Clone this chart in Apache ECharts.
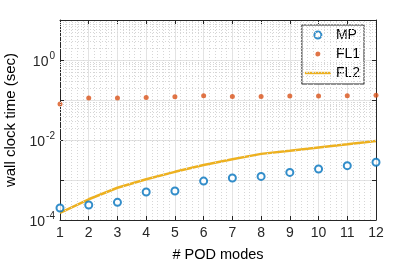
<!DOCTYPE html>
<html>
<head>
<meta charset="utf-8">
<script src="https://cdn.jsdelivr.net/npm/echarts@6/dist/echarts.min.js"></script>
<style>html,body{margin:0;padding:0;background:#fff}#c{width:415px;height:265px}</style>
</head>
<body>
<div id="c"></div>
<script>
var modes = [1,2,3,4,5,6,7,8,9,10,11,12];
var mpTimes = [2.0e-4,2.37e-4,2.76e-4,5.0e-4,5.3e-4,9.4e-4,1.12e-3,1.23e-3,1.55e-3,1.88e-3,2.28e-3,2.77e-3];
var fl1Times = [0.079,0.112,0.112,0.115,0.12,0.128,0.123,0.123,0.126,0.126,0.128,0.131];
var fl2Times = [1.5e-4,3.3e-4,6.4e-4,1.04e-3,1.6e-3,2.37e-3,3.3e-3,4.5e-3,5.4e-3,6.5e-3,7.8e-3,9.4e-3];
var minorY = [];
[-4,-3,-2,-1,0].forEach(function(e){ for (var k=2;k<=9;k++) minorY.push(k*Math.pow(10,e)); });
var minorX = [];
for (var i=1;i<12;i++){ for (var j=1;j<5;j++) minorX.push(i + j*0.2); }

function pairs(ys){ return modes.map(function(x,i){ return [x, ys[i]]; }); }

var font = 'Liberation Sans, Arial, Helvetica, sans-serif';
var chart = echarts.init(document.getElementById('c'));
var axisLine = {show:true, lineStyle:{color:'#262626', width:1}};
chart.setOption({
  animation:false,
  textStyle:{fontFamily:font},
  grid:{left:60,right:39,top:20,bottom:45,containLabel:false,outerBoundsMode:'none'},
  legend:{
    orient:'vertical', right:51, top:25,
    backgroundColor:'#fff', borderColor:'#262626', borderWidth:1,
    padding:[3,4,4,3], itemGap:5, itemWidth:26, itemHeight:7,
    textStyle:{fontSize:14, color:'#000', fontFamily:font},
    data:[
      {name:'MP', icon:'emptyCircle'},
      {name:'FL1', icon:'path://M0,0 L0,0 M13,1 A2.5,2.5 0 1,1 12.99,1 Z M26,7 L26,7'},
      {name:'FL2', icon:'path://M0,0 L0,0 M0,2.3 L26,2.3 L26,4.7 L0,4.7 Z M26,7 L26,7'}
    ]
  },
  xAxis:[{
    type:'value', min:1, max:12, interval:1,
    name:'# POD modes', nameLocation:'middle', nameGap:27,
    nameTextStyle:{fontSize:14.5, color:'#000', fontFamily:font},
    axisLine:axisLine,
    axisTick:{show:true, inside:true, length:4, lineStyle:{color:'#262626'}},
    axisLabel:{fontSize:14, color:'#262626', margin:6},
    splitLine:{show:true, lineStyle:{color:'#e3e3e3', width:1}}
  },{
    type:'value', min:1, max:12, interval:1, position:'top',
    axisLine:axisLine,
    axisTick:{show:true, inside:true, length:4, lineStyle:{color:'#262626'}},
    axisLabel:{show:false}, splitLine:{show:false}
  }],
  yAxis:[{
    type:'log', logBase:10, min:1e-4, max:10,
    name:'wall clock time (sec)', nameLocation:'middle', nameGap:39,
    nameTextStyle:{fontSize:15, color:'#000', fontFamily:font},
    axisLine:axisLine,
    axisTick:{show:true, inside:true, length:4, lineStyle:{color:'#262626'}},
    axisLabel:{
      margin:5,
      formatter:function(v){
        var e = Math.round(Math.log(v)/Math.LN10);
        if (e % 2 !== 0 || e > 0) return '';
        return '{b|10}{s|' + (e===0 ? '0' : e) + '}';
      },
      rich:{
        b:{fontSize:14, color:'#262626', fontFamily:font, padding:[4,0,0,0]},
        s:{fontSize:10, color:'#262626', fontFamily:font, padding:[0,0,8,1]}
      }
    },
    splitLine:{show:true, lineStyle:{color:'#e3e3e3', width:1}}
  },{
    type:'log', logBase:10, min:1e-4, max:10, position:'right',
    axisLine:axisLine,
    axisTick:{show:true, inside:true, length:4, lineStyle:{color:'#262626'}},
    axisLabel:{show:false}, splitLine:{show:false}
  }],
  series:[
    {
      name:'grid', type:'line', data:[], silent:true, legendHoverLink:false,
      markLine:{
        silent:true, symbol:'none', label:{show:false}, animation:false,
        lineStyle:{color:'#d6d6d6', type:[1,2], width:1},
        data: minorY.map(function(v){ return {yAxis:v}; }).concat(minorX.map(function(v){ return {xAxis:v}; }))
      }
    },
    {
      name:'FL2', type:'line', data:pairs(fl2Times), symbol:'none', smooth:false,
      lineStyle:{color:'#EDB120', width:2.5}, itemStyle:{color:'#EDB120'}, z:3
    },
    {
      name:'MP', type:'scatter', data:pairs(mpTimes), symbol:'emptyCircle', symbolSize:7,
      itemStyle:{color:'#0072BD', borderColor:'#0072BD', borderWidth:2}, z:4
    },
    {
      name:'FL1', type:'scatter', data:pairs(fl1Times), symbol:'circle', symbolSize:5,
      itemStyle:{color:'#D95319'}, z:4
    }
  ]
});
</script>
</body>
</html>
